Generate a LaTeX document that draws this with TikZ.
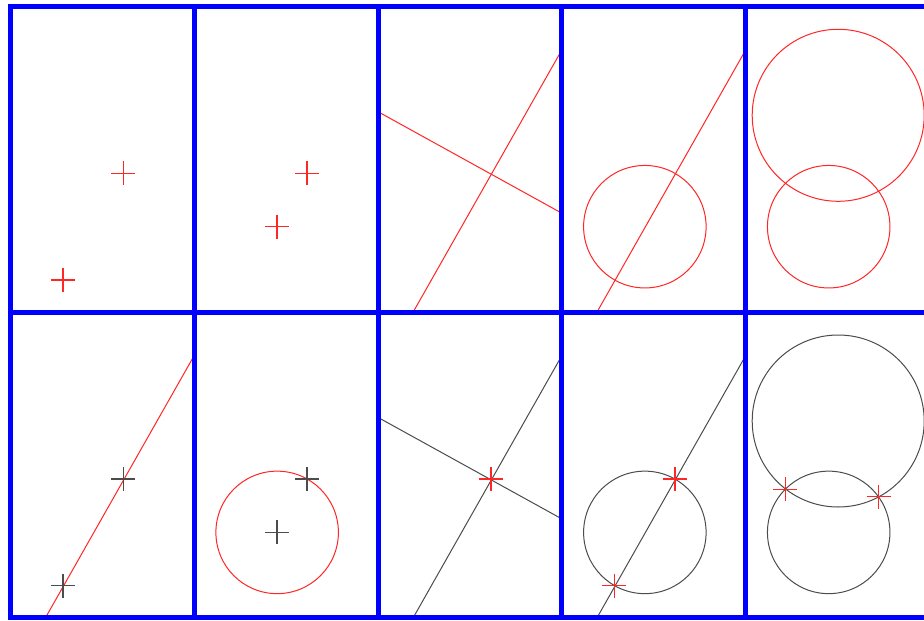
\documentclass[tikz,border=0pt]{standalone}
\usetikzlibrary{calc}

\newcommand{\setpoints}{%
  \coordinate (A) at (113,167);
  \coordinate (B) at (52.5,273.7);
  \coordinate (C) at (83,220.4);
  \coordinate (D) at (92.5,109);
  \coordinate (E) at (0,105.4);
  \coordinate (F) at (183.85,206.9);
  \coordinate (P) at (39.6,177.2);
  \coordinate (Q) at (132.8,184.7);
  \coordinate (AB1) at (35.2,305.7);
  \coordinate (AB2) at (183.85,43.6);
}
\newcommand{\crossat}[2]{%
  \draw[#1, line width=1.4pt] ($(#2)+(-12,0)$) -- ($(#2)+(12,0)$);
  \draw[#1, line width=1.4pt] ($(#2)+(0,-12)$) -- ($(#2)+(0,12)$);
}

\begin{document}
\begin{tikzpicture}[
    x=1pt, y=-1pt,
    cell/.style 2 args={shift={(10.3+183.85*#1,6.3+305.7*#2)}},
    gridbox/.style={color=blue, line width=5pt},
    redline/.style={color=red!85, line width=1pt},
    blackline/.style={color=black!70, line width=1pt}
]
    \useasboundingbox (0,0) rectangle (924,621);
    \fill[white] (0,0) rectangle (924,621);

    \begin{scope}[cell={0}{0}]
        \setpoints
        \crossat{redline}{A}
        \crossat{redline}{B}
    \end{scope}
    \begin{scope}[cell={1}{0}]
        \setpoints
        \crossat{redline}{A}
        \crossat{redline}{C}
    \end{scope}
    \begin{scope}[cell={2}{0}]
        \setpoints
        \draw[redline] (E) -- (F);
        \draw[redline] (AB1) -- (AB2);
    \end{scope}
    \begin{scope}[cell={3}{0}]
        \setpoints
        \draw[redline] (C) circle[radius=61.25pt];
        \draw[redline] (AB1) -- (AB2);
    \end{scope}
    \begin{scope}[cell={4}{0}]
        \setpoints
        \draw[redline] (D) circle[radius=86pt];
        \draw[redline] (C) circle[radius=61.25pt];
    \end{scope}

    \begin{scope}[cell={0}{1}]
        \setpoints
        \draw[redline] (AB1) -- (AB2);
        \crossat{blackline}{A}
        \crossat{blackline}{B}
    \end{scope}
    \begin{scope}[cell={1}{1}]
        \setpoints
        \draw[redline] (C) circle[radius=61.25pt];
        \crossat{blackline}{A}
        \crossat{blackline}{C}
    \end{scope}
    \begin{scope}[cell={2}{1}]
        \setpoints
        \draw[blackline] (E) -- (F);
        \draw[blackline] (AB1) -- (AB2);
        \crossat{redline}{A}
    \end{scope}
    \begin{scope}[cell={3}{1}]
        \setpoints
        \draw[blackline] (C) circle[radius=61.25pt];
        \draw[blackline] (AB1) -- (AB2);
        \crossat{redline}{A}
        \crossat{redline}{B}
    \end{scope}
    \begin{scope}[cell={4}{1}]
        \setpoints
        \draw[blackline] (D) circle[radius=86pt];
        \draw[blackline] (C) circle[radius=61.25pt];
        \crossat{redline}{P}
        \crossat{redline}{Q}
    \end{scope}

    \begin{scope}
        \clip (0,0) rectangle (924,621);
        \foreach \i in {0,...,4}
            \foreach \j in {0,1}
                \draw[gridbox, cell={\i}{\j}] (0,0) rectangle (183.85,305.7);
    \end{scope}
\end{tikzpicture}
\end{document}
